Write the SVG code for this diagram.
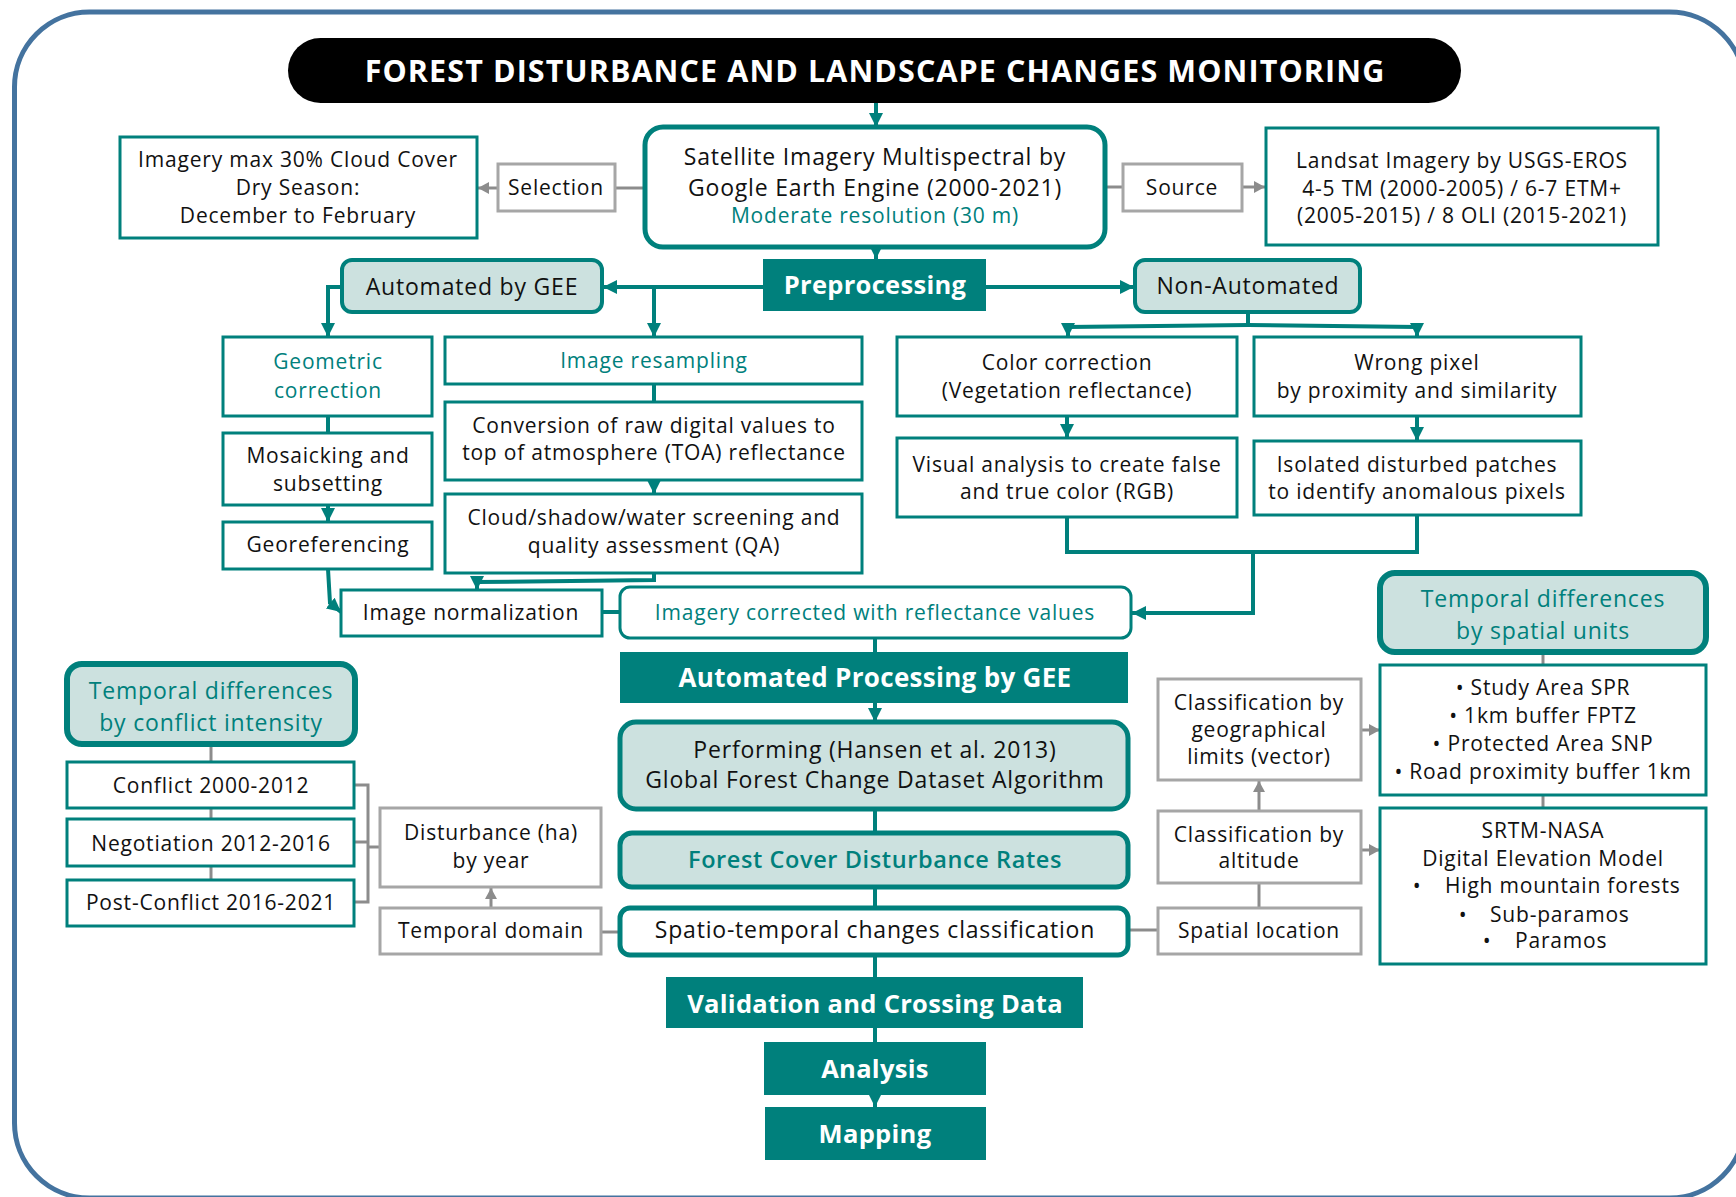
<svg xmlns="http://www.w3.org/2000/svg" width="1736" height="1197" viewBox="0 0 1736 1197">
<defs>
<style>
text{font-family:"Open Sans",Lato,"Liberation Sans",sans-serif;font-size:21px;letter-spacing:0.8px;fill:#111;text-anchor:middle}
.tl{fill:#00807C}
.wb{fill:#fff;font-weight:bold;letter-spacing:0.3px}
.b{stroke:#00807C;stroke-width:3;fill:#fff}
.bt{stroke:#00807C;stroke-width:5;fill:#fff}
.lt{stroke:#00807C;stroke-width:5;fill:#CCE1DF}
.g{stroke:#A6A6A6;stroke-width:3;fill:#fff}
.f{fill:#00807C}
.c{stroke:#00807C;stroke-width:4;fill:none}
.cg{stroke:#8C8C8C;stroke-width:3;fill:none}
.m{font-size:23px;letter-spacing:0.8px}
</style>
<marker id="at" markerWidth="16" markerHeight="14" refX="14" refY="7" orient="auto" markerUnits="userSpaceOnUse"><path d="M0,0 L14,7 L0,14 z" fill="#00807C"/></marker>
<marker id="ag" markerWidth="12" markerHeight="12" refX="11" refY="6" orient="auto" markerUnits="userSpaceOnUse"><path d="M0,0 L11,6 L0,12 z" fill="#8C8C8C"/></marker>
</defs>
<rect width="1736" height="1197" fill="#fff"/>
<rect x="14.5" y="12" width="1730" height="1186" rx="75" fill="none" stroke="#44739F" stroke-width="5"/>

<g id="connectors">
<line class="c" x1="876" y1="103" x2="876" y2="127" marker-end="url(#at)"/>
<line class="c" x1="876" y1="247" x2="876" y2="259" marker-end="url(#at)"/>
<line class="cg" x1="645" y1="188" x2="615" y2="188"/>
<line class="cg" x1="498" y1="188" x2="478" y2="188" marker-end="url(#ag)"/>
<line class="cg" x1="1105" y1="187" x2="1123" y2="187"/>
<line class="cg" x1="1242" y1="187" x2="1265" y2="187" marker-end="url(#ag)"/>
<line class="c" x1="763" y1="287" x2="603" y2="287" marker-end="url(#at)"/>
<line class="c" x1="654" y1="287" x2="654" y2="337" marker-end="url(#at)"/>
<polyline class="c" points="342,287 328,287 328,337" marker-end="url(#at)"/>
<line class="c" x1="986" y1="287" x2="1134" y2="287" marker-end="url(#at)"/>
<line class="c" x1="1248" y1="312" x2="1248" y2="326"/>
<polyline class="c" points="1248,325 1068,327 1068,337" marker-end="url(#at)"/>
<polyline class="c" points="1248,325 1417,327 1417,337" marker-end="url(#at)"/>
<line class="c" x1="328" y1="416" x2="328" y2="433"/>
<line class="c" x1="328" y1="505" x2="328" y2="522" marker-end="url(#at)"/>
<polyline class="c" points="328,569 330,603 341,612" marker-end="url(#at)"/>
<line class="c" x1="654" y1="384" x2="654" y2="402"/>
<line class="c" x1="654" y1="480" x2="654" y2="494" marker-end="url(#at)"/>
<polyline class="c" points="654,573 654,580 477,582 477,590" marker-end="url(#at)"/>
<line class="c" x1="602" y1="612" x2="620" y2="612"/>
<line class="c" x1="1067" y1="416" x2="1067" y2="438" marker-end="url(#at)"/>
<line class="c" x1="1417" y1="416" x2="1417" y2="441" marker-end="url(#at)"/>
<polyline class="c" points="1067,517 1067,552 1417,552 1417,515"/>
<polyline class="c" points="1253,552 1253,613 1132,613" marker-end="url(#at)"/>
<line class="c" x1="875" y1="638" x2="875" y2="652"/>
<line class="c" x1="875" y1="703" x2="875" y2="722" marker-end="url(#at)"/>
<line class="c" x1="875" y1="809" x2="875" y2="833"/>
<line class="c" x1="875" y1="887" x2="875" y2="908"/>
<line class="c" x1="875" y1="955" x2="875" y2="977"/>
<line class="c" x1="875" y1="1028" x2="875" y2="1042"/>
<line class="c" x1="875" y1="1095" x2="875" y2="1107" marker-end="url(#at)"/>
<line class="cg" x1="211" y1="744" x2="211" y2="762"/>
<line class="cg" x1="211" y1="808" x2="211" y2="819"/>
<line class="cg" x1="211" y1="866" x2="211" y2="880"/>
<polyline class="cg" points="354,785 368,785 368,902 354,902"/>
<line class="cg" x1="354" y1="842" x2="368" y2="842"/>
<line class="cg" x1="368" y1="847" x2="380" y2="847"/>
<line class="cg" x1="491" y1="908" x2="491" y2="888" marker-end="url(#ag)"/>
<line class="cg" x1="601" y1="932" x2="620" y2="932"/>
<line class="cg" x1="1128" y1="930" x2="1158" y2="930"/>
<line class="cg" x1="1259" y1="811" x2="1259" y2="781" marker-end="url(#ag)"/>
<line class="cg" x1="1259" y1="883" x2="1259" y2="908"/>
<line class="cg" x1="1361" y1="730" x2="1380" y2="730" marker-end="url(#ag)"/>
<line class="cg" x1="1361" y1="850" x2="1380" y2="850" marker-end="url(#ag)"/>
<line class="cg" x1="1543" y1="652" x2="1543" y2="665"/>
<line class="cg" x1="1543" y1="795" x2="1543" y2="808"/>
</g>

<g id="title">
<rect x="288" y="38" width="1173" height="65" rx="32.5" fill="#000"/>
<text x="875" y="82" class="wb" style="font-size:30.5px;letter-spacing:1.1px">FOREST DISTURBANCE AND LANDSCAPE CHANGES MONITORING</text>
</g>
<g id="satellite">
<rect class="bt" x="645" y="127" width="460" height="120" rx="18"/>
<text class="m"><tspan x="875" y="165">Satellite Imagery Multispectral by</tspan><tspan x="875" y="196">Google Earth Engine (2000-2021)</tspan><tspan x="875" y="223" class="tl" style="font-size:21px">Moderate resolution (30 m)</tspan></text>
</g>
<g id="selection">
<rect class="g" x="498" y="164" width="117" height="47"/>
<text x="556" y="195">Selection</text>
</g>
<g id="imagery-cloud">
<rect class="b" x="120" y="137" width="357" height="101"/>
<text><tspan x="298" y="167">Imagery max 30% Cloud Cover</tspan><tspan x="298" y="195">Dry Season:</tspan><tspan x="298" y="223">December to February</tspan></text>
</g>
<g id="source">
<rect class="g" x="1123" y="164" width="119" height="47"/>
<text x="1182" y="195">Source</text>
</g>
<g id="landsat">
<rect class="b" x="1266" y="128" width="392" height="117"/>
<text><tspan x="1462" y="168">Landsat Imagery by USGS-EROS</tspan><tspan x="1462" y="196">4-5 TM  (2000-2005)  / 6-7 ETM+</tspan><tspan x="1462" y="223">(2005-2015) / 8 OLI (2015-2021)</tspan></text>
</g>
<g id="preprocessing">
<rect class="f" x="763" y="259" width="223" height="52"/>
<text x="875" y="294" class="wb" style="font-size:25.5px">Preprocessing</text>
</g>
<g id="automated-gee">
<rect class="lt" x="342" y="260" width="260" height="52" rx="10" style="stroke-width:4"/>
<text x="472" y="295" class="m">Automated by GEE</text>
</g>
<g id="non-automated">
<rect class="lt" x="1135" y="260" width="225" height="52" rx="10" style="stroke-width:4"/>
<text x="1248" y="294" class="m">Non-Automated</text>
</g>
<g id="geometric">
<rect class="b" x="223" y="337" width="209" height="79"/>
<text class="tl"><tspan x="328" y="369">Geometric</tspan><tspan x="328" y="398">correction</tspan></text>
</g>
<g id="mosaicking">
<rect class="b" x="223" y="433" width="209" height="72"/>
<text><tspan x="328" y="463">Mosaicking and</tspan><tspan x="328" y="491">subsetting</tspan></text>
</g>
<g id="georeferencing">
<rect class="b" x="223" y="522" width="209" height="47"/>
<text x="328" y="552">Georeferencing</text>
</g>
<g id="resampling">
<rect class="b" x="445" y="337" width="417" height="47"/>
<text x="654" y="368" class="tl">Image resampling</text>
</g>
<g id="conversion">
<rect class="b" x="445" y="402" width="417" height="78"/>
<text><tspan x="654" y="433">Conversion of raw digital values to</tspan><tspan x="654" y="460">top of atmosphere (TOA) reflectance</tspan></text>
</g>
<g id="cloud-screening">
<rect class="b" x="445" y="494" width="417" height="79"/>
<text><tspan x="654" y="525">Cloud/shadow/water screening and</tspan><tspan x="654" y="553">quality assessment (QA)</tspan></text>
</g>
<g id="normalization">
<rect class="b" x="341" y="590" width="261" height="46"/>
<text x="471" y="620">Image normalization</text>
</g>
<g id="color-correction">
<rect class="b" x="897" y="337" width="340" height="79"/>
<text><tspan x="1067" y="370">Color correction</tspan><tspan x="1067" y="398">(Vegetation reflectance)</tspan></text>
</g>
<g id="visual-analysis">
<rect class="b" x="897" y="438" width="340" height="79"/>
<text><tspan x="1067" y="472">Visual analysis to create false</tspan><tspan x="1067" y="499">and true color (RGB)</tspan></text>
</g>
<g id="wrong-pixel">
<rect class="b" x="1254" y="337" width="327" height="79"/>
<text><tspan x="1417" y="370">Wrong pixel</tspan><tspan x="1417" y="398">by proximity and similarity</tspan></text>
</g>
<g id="isolated">
<rect class="b" x="1254" y="441" width="327" height="74"/>
<text><tspan x="1417" y="472">Isolated disturbed patches</tspan><tspan x="1417" y="499">to identify anomalous pixels</tspan></text>
</g>
<g id="imagery-corrected">
<rect class="b" x="620" y="587" width="511" height="51" rx="10"/>
<text x="875" y="620" class="tl">Imagery corrected with reflectance values</text>
</g>
<g id="automated-processing">
<rect class="f" x="620" y="652" width="508" height="51"/>
<text x="875" y="687" class="wb" style="font-size:26px">Automated Processing by GEE</text>
</g>
<g id="performing">
<rect class="lt" x="620" y="722" width="508" height="87" rx="16"/>
<text class="m"><tspan x="875" y="758">Performing (Hansen et al. 2013)</tspan><tspan x="875" y="788">Global Forest Change Dataset Algorithm</tspan></text>
</g>
<g id="forest-cover">
<rect class="lt" x="620" y="833" width="508" height="54" rx="12"/>
<text x="875" y="868" class="tl" style="font-size:23.5px;font-weight:600;letter-spacing:0.6px">Forest Cover Disturbance Rates</text>
</g>
<g id="spatio-temporal">
<rect class="bt" x="620" y="908" width="508" height="47" rx="10"/>
<text x="875" y="938" class="m">Spatio-temporal changes classification</text>
</g>
<g id="validation">
<rect class="f" x="666" y="977" width="417" height="51"/>
<text x="875" y="1013" class="wb" style="font-size:25.5px">Validation and Crossing Data</text>
</g>
<g id="analysis">
<rect class="f" x="764" y="1042" width="222" height="53"/>
<text x="875" y="1078" class="wb" style="font-size:25.5px">Analysis</text>
</g>
<g id="mapping">
<rect class="f" x="765" y="1107" width="221" height="53"/>
<text x="875" y="1143" class="wb" style="font-size:25.5px">Mapping</text>
</g>
<g id="temporal-conflict">
<rect class="lt" x="67" y="664" width="288" height="80" rx="15" style="stroke-width:6"/>
<text class="tl m"><tspan x="211" y="699">Temporal differences</tspan><tspan x="211" y="731">by conflict intensity</tspan></text>
</g>
<g id="conflict">
<rect class="b" x="67" y="762" width="287" height="46"/>
<text x="211" y="793">Conflict 2000-2012</text>
</g>
<g id="negotiation">
<rect class="b" x="67" y="819" width="287" height="47"/>
<text x="211" y="851">Negotiation 2012-2016</text>
</g>
<g id="post-conflict">
<rect class="b" x="67" y="880" width="287" height="46"/>
<text x="211" y="910">Post-Conflict 2016-2021</text>
</g>
<g id="disturbance">
<rect class="g" x="380" y="808" width="221" height="79"/>
<text><tspan x="491" y="840">Disturbance (ha)</tspan><tspan x="491" y="868">by year</tspan></text>
</g>
<g id="temporal-domain">
<rect class="g" x="380" y="908" width="221" height="46"/>
<text x="491" y="938">Temporal domain</text>
</g>
<g id="class-geo">
<rect class="g" x="1158" y="679" width="203" height="101"/>
<text><tspan x="1259" y="710">Classification by</tspan><tspan x="1259" y="737">geographical</tspan><tspan x="1259" y="764">limits (vector)</tspan></text>
</g>
<g id="class-altitude">
<rect class="g" x="1158" y="811" width="203" height="72"/>
<text><tspan x="1259" y="842">Classification by</tspan><tspan x="1259" y="868">altitude</tspan></text>
</g>
<g id="spatial-location">
<rect class="g" x="1158" y="908" width="203" height="46"/>
<text x="1259" y="938">Spatial location</text>
</g>
<g id="temporal-spatial">
<rect class="lt" x="1380" y="573" width="326" height="79" rx="15" style="stroke-width:6"/>
<text class="tl m"><tspan x="1543" y="607">Temporal differences</tspan><tspan x="1543" y="639">by spatial units</tspan></text>
</g>
<g id="spatial-units">
<rect class="b" x="1380" y="665" width="326" height="130"/>
<text><tspan x="1543" y="695">• Study Area SPR</tspan><tspan x="1543" y="723">• 1km buffer FPTZ</tspan><tspan x="1543" y="751">• Protected Area SNP</tspan><tspan x="1543" y="779">• Road proximity buffer 1km</tspan></text>
</g>
<g id="srtm">
<rect class="b" x="1380" y="808" width="326" height="156"/>
<text><tspan x="1543" y="838">SRTM-NASA</tspan><tspan x="1543" y="866">Digital Elevation Model</tspan><tspan x="1417" y="893">•</tspan><tspan x="1445" y="893" style="text-anchor:start">High mountain forests</tspan><tspan x="1463" y="922">•</tspan><tspan x="1490" y="922" style="text-anchor:start">Sub-paramos</tspan><tspan x="1487" y="948">•</tspan><tspan x="1515" y="948" style="text-anchor:start">Paramos</tspan></text>
</g>
</svg>
